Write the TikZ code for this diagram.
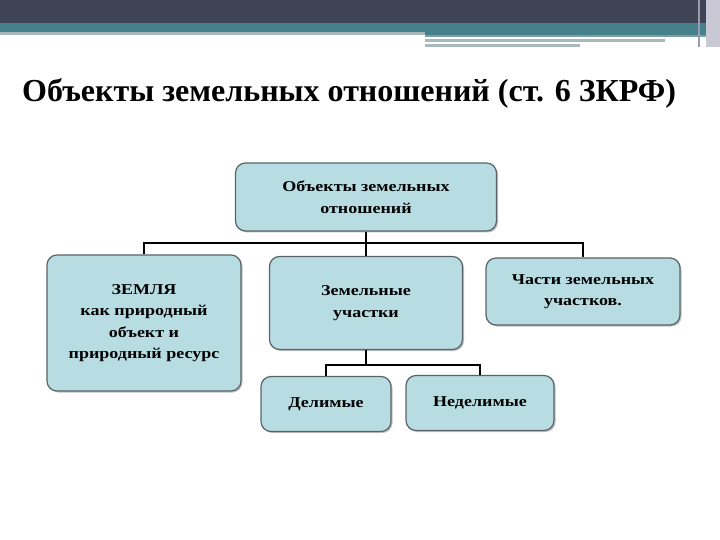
\documentclass[tikz,border=0pt]{standalone}
\usepackage{fontspec}
\setmainfont{Liberation Serif}
\newfontfamily\boxfont[FakeStretch=1.2]{Liberation Serif}
\usetikzlibrary{shadows}
\definecolor{bardark}{HTML}{3F4356}
\definecolor{barteal}{HTML}{46808A}
\definecolor{barlight}{HTML}{A8B8BC}
\definecolor{barmid}{HTML}{7F9EA4}
\definecolor{barright}{HTML}{C9C9D6}
\definecolor{barvert}{HTML}{9A9CB0}
\definecolor{boxfill}{HTML}{B7DCE2}
\definecolor{boxedge}{HTML}{5A6468}
\tikzset{
  orgbox/.style={draw=boxedge, line width=1.2bp, fill=boxfill, rounded corners=10bp,
    align=center, inner sep=2bp, font=\boxfont\bfseries\fontsize{15bp}{21.5bp}\selectfont,
    drop shadow={shadow xshift=1.5bp, shadow yshift=-1.5bp, fill=gray!70, opacity=0.7}},
  link/.style={draw=black, line width=2.2bp}
}
\begin{document}
\begin{tikzpicture}[x=1bp,y=-1bp]
\useasboundingbox (0,0) rectangle (720,540);
\fill[white] (0,0) rectangle (720,540);
% header bar
\fill[bardark] (0,0) rectangle (720,23);
\fill[barteal] (0,23) rectangle (720,32);
\fill[barlight] (0,32) rectangle (425,35);
\fill[barteal] (425,32) rectangle (720,35);
\fill[barmid] (425,35) rectangle (720,37);
\fill[barlight] (425,39) rectangle (665,42);
\fill[barlight] (425,44) rectangle (580,47);
\fill[barright] (706,0) rectangle (720,47);
\fill[barvert] (698,0) rectangle (700,47);
% title
\node[anchor=base west, inner sep=0pt, font=\bfseries\fontsize{32bp}{36bp}\selectfont] (title) at (22,102)
  {Объекты земельных отношений (ст. 6 ЗКРФ)};
% boxes
\node[orgbox, minimum width=261bp, minimum height=68bp] (top) at (366,197) {Объекты земельных\\отношений};
\node[orgbox, minimum width=194bp, minimum height=136bp] (land) at (144,323) {ЗЕМЛЯ\\как природный\\объект и\\природный ресурс};
\node[orgbox, minimum width=193bp, minimum height=93bp] (mid) at (366,303) {Земельные\\участки};
\node[orgbox, minimum width=194bp, minimum height=67bp] (parts) at (583,291.5) {Части земельных\\участков.};
\node[orgbox, minimum width=130bp, minimum height=55bp] (div) at (326,404) {Делимые};
\node[orgbox, minimum width=148bp, minimum height=55bp] (ndiv) at (480,403) {Неделимые};
% connectors
\coordinate (j1) at (366,243);
\coordinate (j2) at (366,365);
\draw[link] (top.south) -- (mid.north);
\draw[link] (land.north) |- (j1) -| (parts.north);
\draw[link] (mid.south) -- (j2);
\draw[link] (div.north) |- (j2) -| (ndiv.north);
\end{tikzpicture}
\end{document}
